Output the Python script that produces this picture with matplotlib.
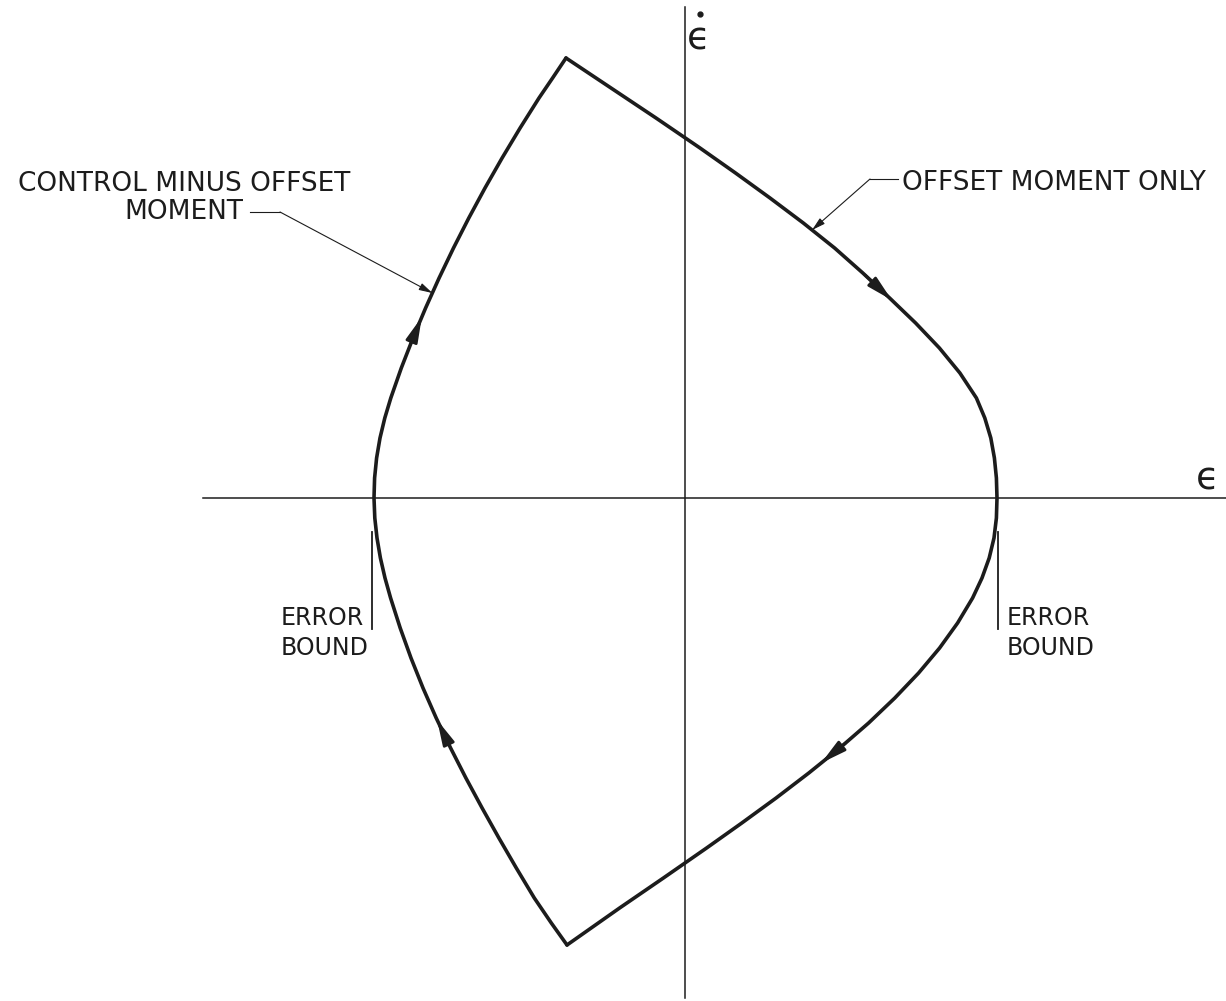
import numpy as np
import matplotlib
matplotlib.use("Agg")
import matplotlib.pyplot as plt

plt.rcParams['font.family'] = 'DejaVu Sans'

INK = '#1c1c1c'

# phase-plane trajectory (arbitrary units, error bound at +/-3.12)
# offset-moment-only arc, from the upper switch point down to the lower one
offset_eps = [-1.19, -0.74, -0.29, 0.150, 0.505, 0.850, 1.183, 1.496, 1.778, 2.046,
              2.306, 2.544, 2.749, 2.914, 2.998, 3.058, 3.094, 3.114, 3.120,
              3.114, 3.090, 3.042, 2.970, 2.876, 2.726, 2.546, 2.336, 2.098, 1.836,
              1.548, 1.238, 0.911, 0.568, 0.216, -0.216, -0.654, -1.18]
offset_rate = [4.40, 4.10, 3.80, 3.50, 3.25, 3.00, 2.75, 2.50, 2.25, 2.00,
               1.75, 1.50, 1.25, 1.00, 0.80, 0.60, 0.40, 0.20, 0.00,
               -0.20, -0.40, -0.60, -0.80, -1.00, -1.25, -1.50, -1.75, -2.00, -2.25,
               -2.50, -2.75, -3.00, -3.25, -3.50, -3.80, -4.10, -4.47]

# control-minus-offset arc, from the lower switch point back up
control_eps = [-1.18, -1.337, -1.507, -1.687, -1.861, -2.029, -2.191, -2.344, -2.488, -2.620,
               -2.740, -2.848, -2.944, -3.000, -3.046, -3.080, -3.102, -3.110,
               -3.104, -3.084, -3.050, -3.002, -2.942, -2.837, -2.720, -2.594, -2.459,
               -2.315, -2.162, -2.000, -1.829, -1.649, -1.460, -1.324, -1.19]
control_rate = [-4.47, -4.25, -4.00, -3.70, -3.40, -3.10, -2.80, -2.50, -2.20, -1.90,
                -1.60, -1.30, -1.00, -0.80, -0.60, -0.40, -0.20, 0.00,
                0.20, 0.40, 0.60, 0.80, 1.00, 1.30, 1.60, 1.90, 2.20,
                2.50, 2.80, 3.10, 3.40, 3.70, 4.00, 4.20, 4.40]

error_bound = [-3.13, 3.13]

# (tip, tail) rate values of the direction arrows on each arc
offset_arrows = [(1.98, 2.23), (-2.65, -2.45)]
control_arrows = [(1.81, 1.55), (-2.22, -2.44)]


def arc_point(eps, rate, r):
    order = np.argsort(rate)
    return np.interp(r, np.asarray(rate)[order], np.asarray(eps)[order]), r


def arc_arrow(ax, eps, rate, tip, tail):
    ax.annotate('', xy=arc_point(eps, rate, tip), xytext=arc_point(eps, rate, tail),
                arrowprops=dict(arrowstyle='-|>,head_length=1.5,head_width=0.36',
                                color=INK, lw=2.0, shrinkA=0, shrinkB=0))


fig = plt.figure(figsize=(12.26, 10.01), dpi=100)
ax = fig.add_axes([0, 0, 1, 1])
ax.set_xlim(-6.85, 5.41)
ax.set_ylim(-5.03, 4.98)
ax.axis('off')

# coordinate axes
ax.plot([-4.82, 5.41], [0, 0], color=INK, lw=1.1)
ax.plot([0, 0], [-5.00, 4.91], color=INK, lw=1.1)
ax.text(5.22, 0.19, '\u03f5', fontsize=27, color=INK, ha='center', va='center')
ax.text(0.13, 4.59, '\u03f5', fontsize=27, color=INK, ha='center', va='center')
ax.plot([0.15], [4.84], marker='o', ms=3.5, color=INK)

# trajectory
ax.plot(offset_eps, offset_rate, color=INK, lw=2.6, solid_joinstyle='round', solid_capstyle='round')
ax.plot(control_eps, control_rate, color=INK, lw=2.6, solid_joinstyle='round', solid_capstyle='round')
for tip, tail in offset_arrows:
    arc_arrow(ax, offset_eps, offset_rate, tip, tail)
for tip, tail in control_arrows:
    arc_arrow(ax, control_eps, control_rate, tip, tail)

# error bound markers
for b in error_bound:
    ax.plot([b, b], [-0.34, -1.31], color=INK, lw=1.3)
ax.text(-4.04, -1.35, 'ERROR\nBOUND', fontsize=17, color=INK, ha='left', va='center',
        linespacing=1.3)
ax.text(3.22, -1.35, 'ERROR\nBOUND', fontsize=17, color=INK, ha='left', va='center',
        linespacing=1.3)

# leader labels
leader = dict(arrowstyle='-|>,head_length=0.8,head_width=0.22', color=INK, lw=0.8,
              shrinkA=0, shrinkB=0)
ax.text(-5.01, 3.005, 'CONTROL MINUS OFFSET\nMOMENT', fontsize=19, color=INK,
        ha='center', va='center', linespacing=1.1)
ax.plot([-4.35, -4.05], [2.86, 2.86], color=INK, lw=0.8)
ax.annotate('', xy=arc_point(control_eps, control_rate, 2.05), xytext=(-4.05, 2.86),
            arrowprops=leader)

ax.text(2.17, 3.15, 'OFFSET MOMENT ONLY', fontsize=19, color=INK, ha='left', va='center')
ax.plot([2.13, 1.85], [3.19, 3.19], color=INK, lw=0.8)
ax.annotate('', xy=arc_point(offset_eps, offset_rate, 2.68), xytext=(1.85, 3.19),
            arrowprops=leader)

fig.savefig('out.png', dpi=100, facecolor='white')
